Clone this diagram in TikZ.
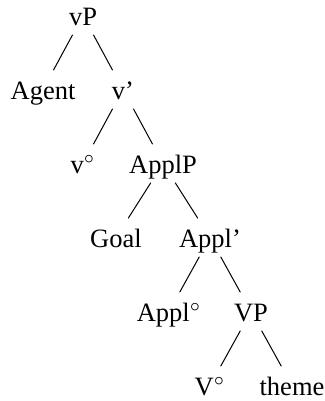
\documentclass[tikz,border=0pt]{standalone}
\usepackage{fontspec}
\setmainfont{Liberation Serif}
\usepackage{tikz}

\begin{document}
\begin{tikzpicture}[level distance=29.6pt,sibling distance=32pt,inner ysep=2.5pt,
  every node/.style={text height=9pt,text depth=1pt},
  font=\fontsize{10.6}{13}\selectfont,
  level 3/.style={sibling distance=37.6pt},
  level 4/.style={sibling distance=32.8pt},
  level 5/.style={sibling distance=32.8pt}]
\useasboundingbox (-33.2pt,6.2pt) rectangle (96.4pt,-154.2pt);
\node (vP){vP}
    child{node (agent){Agent}}
    child{node (vbar){v’}
        child{node (vhead){v$^\circ$}}
        child{node (applP){ApplP}
            child{node (goal){Goal}}
            child{node (applbar){Appl’}
                child{node (applhead){Appl$^\circ$}}
                child{node (VP){VP}
                    child{node (Vhead){V$^\circ$}}
                    child{node (theme){theme}}
                }
            }
        }
    }
;
\end{tikzpicture}
\end{document}
